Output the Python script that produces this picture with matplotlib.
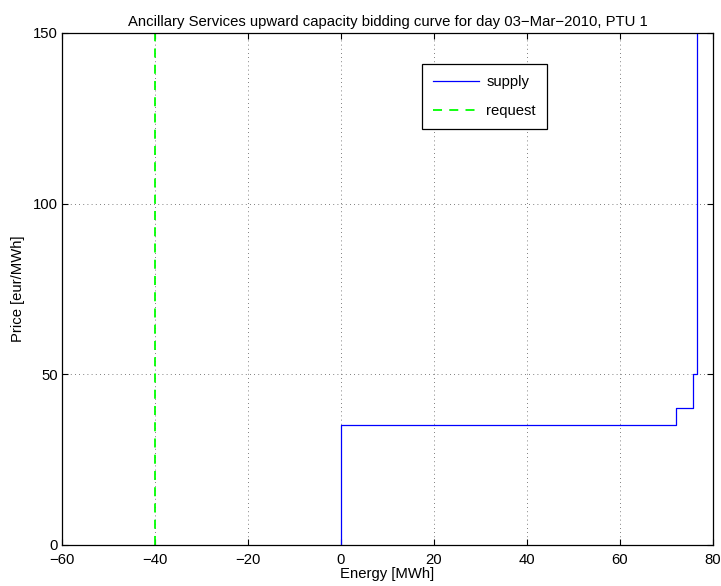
import numpy as np
import matplotlib
matplotlib.use('Agg')
from matplotlib import pyplot as plt

plt.rcParams['font.family'] = ['Liberation Sans', 'DejaVu Sans']

# Supply bidding curve (stepwise) and request
supply_energy = [0, 0, 72, 72, 75.6, 75.6, 76.6, 76.6]
supply_price = [0, 35, 35, 40, 40, 50, 50, 160]
request_energy = [-40, -40]
request_price = [0, 160]

xticks = [-60, -40, -20, 0, 20, 40, 60, 80]
yticks = [0, 50, 100, 150]

fs = 10.7
fig = plt.figure(figsize=(7.21, 5.86), dpi=100)
ax = fig.add_axes([0.086, 0.070, 0.903, 0.874])

ax.plot(supply_energy, supply_price, color='#0000ff', linewidth=0.9, label='supply')
ax.plot(request_energy, request_price, color='#00ff00', linewidth=1.3,
        linestyle=(0, (5, 4)), label='request')

ax.set_xlim(-60, 80)
ax.set_ylim(0, 150)
ax.set_xticks(xticks)
ax.set_yticks(yticks)
ax.set_xticklabels([str(t).replace('-', '\u2212') for t in xticks])
ax.tick_params(direction='in', top=True, right=True, labelsize=fs, length=4)
ax.tick_params(axis='x', pad=6)
ax.tick_params(axis='y', pad=3)
ax.grid(True, color='#555555', linestyle=(0, (1, 4)), linewidth=0.6)
for s in ax.spines.values():
  s.set_linewidth(0.9)

ax.set_xlabel('Energy [MWh]', fontsize=fs, labelpad=0)
ax.set_ylabel('Price [eur/MWh]', fontsize=fs, labelpad=6)
ax.set_title('Ancillary Services upward capacity bidding curve for day 03\u2212Mar\u22122010, PTU 1',
             fontsize=fs, pad=5)

leg = ax.legend(loc='upper left', bbox_to_anchor=(0.553, 0.939), borderaxespad=0,
                fontsize=fs, fancybox=False, framealpha=1, edgecolor='black',
                handlelength=3.1, handletextpad=0.5, borderpad=0.72, labelspacing=1.05)
leg.get_frame().set_linewidth(0.9)

fig.savefig('out.png', dpi=100)
